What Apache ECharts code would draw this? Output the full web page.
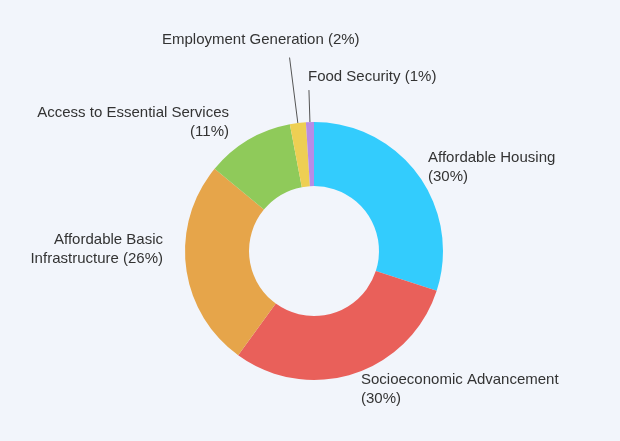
<!DOCTYPE html>
<html>
<head>
<meta charset="utf-8">
<script src="https://cdn.jsdelivr.net/npm/echarts@6/dist/echarts.min.js"></script>
<style>
html,body{margin:0;padding:0;background:#f2f5fb;}
#chart{width:620px;height:441px;}
</style>
</head>
<body>
<div id="chart"></div>
<script>
const categories = [
  "Affordable Housing",
  "Socioeconomic Advancement",
  "Affordable Basic Infrastructure",
  "Access to Essential Services",
  "Employment Generation",
  "Food Security"
];
const values = [30, 30, 26, 11, 2, 1];
const colors = ["#33ccfd", "#e9605a", "#e6a54a", "#8fca5a", "#eecf53", "#b78ce6"];
// label text lines (text only)
const labelTexts = [
  "Affordable Housing\n(30%)",
  "Socioeconomic Advancement\n(30%)",
  "Affordable Basic\nInfrastructure (26%)",
  "Access to Essential Services\n(11%)",
  "Employment Generation (2%)",
  "Food Security (1%)"
];

// label placement (layout only)
const labelPos = [
  {x: 428, y: 167, align: 'left'},
  {x: 361, y: 389, align: 'left'},
  {x: 163, y: 249, align: 'right'},
  {x: 229, y: 122, align: 'right'},
  {x: 162, y: 40, align: 'left'},
  {x: 308, y: 77, align: 'left'}
];
const lineLen = [0, 0, 0, 0, 66, 32];

const chart = echarts.init(document.getElementById('chart'));
chart.setOption({
  backgroundColor: '#f2f5fb',
  animation: false,
  series: [{
    type: 'pie',
    center: [314, 251],
    radius: [65, 129],
    startAngle: 90,
    clockwise: true,
    avoidLabelOverlap: false,
    itemStyle: { borderWidth: 0 },
    label: {
      show: true,
      position: 'outside',
      fontFamily: 'Liberation Sans, Arial, sans-serif',
      fontSize: 15,
      lineHeight: 19,
      color: '#333333',
      formatter: p => labelTexts[p.dataIndex]
    },
    labelLine: {
      show: false,
      length: 10,
      length2: 0,
      lineStyle: { color: '#555555', width: 1 }
    },
    labelLayout: function (params) {
      const i = params.dataIndex;
      const pos = labelPos[i];
      const res = { x: pos.x, y: pos.y, align: pos.align, verticalAlign: 'middle' };
      if (lineLen[i] > 0 && params.labelLinePoints) {
        const p = params.labelLinePoints;
        res.labelLinePoints = [p[0], p[1], p[1]];
      }
      return res;
    },
    emphasis: { disabled: true },
    data: categories.map((c, i) => ({
      name: c,
      value: values[i],
      itemStyle: { color: colors[i] },
      labelLine: lineLen[i] > 0 ? { show: true, length: lineLen[i], length2: 0 } : { show: false }
    }))
  }]
});
</script>
</body>
</html>
